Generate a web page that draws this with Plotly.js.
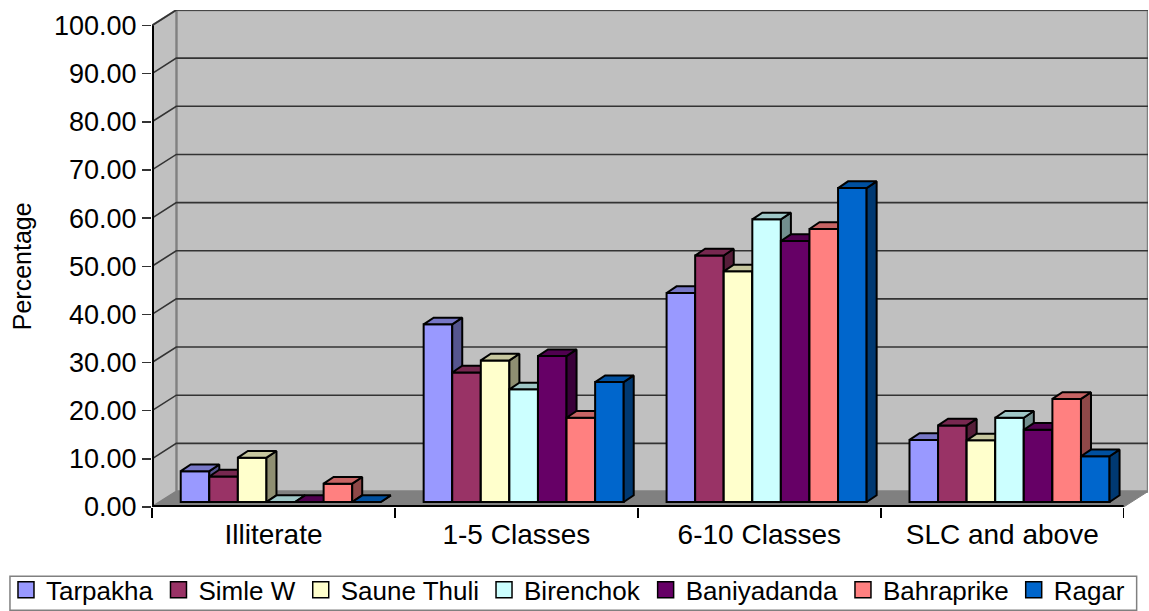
<!DOCTYPE html>
<html>
<head>
<meta charset="utf-8">
<script src="https://cdn.plot.ly/plotly-3.0.1.min.js"></script>
<style>html,body{margin:0;padding:0;background:#fff}#chart{width:1149px;height:611px}</style>
</head>
<body>
<div id="chart"></div>
<script>
// Education level by settlement, in percent
const categories = ['Illiterate', '1-5 Classes', '6-10 Classes', 'SLC and above'];
const tarpakha   = [6.4, 36.9, 43.4, 12.9];
const simleW     = [5.3, 26.9, 51.2, 15.9];
const sauneThuli = [9.2, 29.4, 47.9, 12.8];
const birenchok  = [0.0, 23.4, 58.7, 17.5];
const baniyadanda = [0.0, 30.3, 54.2, 15.0];
const bahraprike = [3.8, 17.5, 56.7, 21.4];
const ragar      = [0.0, 24.9, 65.2, 9.5];

const seriesNames = ['Tarpakha', 'Simle W', 'Saune Thuli', 'Birenchok', 'Baniyadanda', 'Bahraprike', 'Ragar'];
const seriesValues = [tarpakha, simleW, sauneThuli, birenchok, baniyadanda, bahraprike, ragar];
const seriesColors = ['#9999FF', '#993366', '#FFFFCC', '#CCFFFF', '#660066', '#FF8080', '#0066CC'];
const yTicks = [0, 10, 20, 30, 40, 50, 60, 70, 80, 90, 100];

// Oblique projection of the box, in axis units
const wallDx = 0.1, wallDy = 3.22;        // floor depth
const barShiftX = 0.03, barShiftY = 1.04; // bars sit slightly behind the front edge
const barDx = 0.0412, barDy = 1.39;       // bar depth
const barWidth = 1 / 8.5;
const centers = categories.map((_, i) => i + 0.5);
const font = 'Liberation Sans, Arial, sans-serif';

function shade(hex, k) {
  const n = parseInt(hex.slice(1), 16);
  const c = [n >> 16, (n >> 8) & 255, n & 255].map(v => Math.round(v * k));
  return `rgb(${c[0]},${c[1]},${c[2]})`;
}
function polygon(x, y, color, lineColor, lineWidth, axes) {
  return Object.assign({
    type: 'scatter', mode: lineWidth ? 'lines' : 'none', x, y,
    fill: 'toself', fillcolor: color,
    line: {color: lineColor, width: lineWidth || 0},
    hoverinfo: 'skip', showlegend: false
  }, axes || {});
}
function stroke(x, y, color, width) {
  return {type: 'scatter', mode: 'lines', x, y, line: {color, width}, hoverinfo: 'skip', showlegend: false};
}

const traces = [];

// Back wall, side wall and floor
const xMax = categories.length, yMax = yTicks[yTicks.length - 1];
const xEnd = xMax + wallDx, yEnd = yMax + wallDy;
traces.push(polygon([wallDx, xEnd, xEnd, wallDx, wallDx],
  [wallDy, wallDy, yEnd, yEnd, wallDy], '#C0C0C0', '#808080', 2.5));
traces.push(polygon([0, wallDx, wallDx, 0, 0],
  [0, wallDy, yEnd, yMax, 0], '#C0C0C0', '#808080', 2));
traces.push(polygon([0, xMax, xEnd, wallDx, 0],
  [0, 0, wallDy, wallDy, 0], '#808080', '#808080', 1));

// Gridlines run along the side wall and across the back wall
const gx = [], gy = [];
yTicks.slice(1).forEach(t => {
  gx.push(0, wallDx, xEnd, null);
  gy.push(t, t + wallDy, t + wallDy, null);
});
traces.push(stroke(gx, gy, '#333333', 1.6));

// Axis lines stop at the front edge of the box
traces.push(stroke([0, 0], [0, yMax], '#000', 4));
traces.push(stroke([0, xMax], [0, 0], '#000', 4));

// Each series sits on its own overlay so later bars paint over earlier side faces
const layoutAxes = {};
seriesNames.forEach((name, s) => {
  const id = s + 2;
  const axes = {xaxis: 'x' + id, yaxis: 'y' + id};
  layoutAxes['xaxis' + id] = {overlaying: 'x', matches: 'x', visible: false};
  layoutAxes['yaxis' + id] = {overlaying: 'y', matches: 'y', visible: false};
  const values = seriesValues[s];
  const color = seriesColors[s];
  const left = (s - 3.5) * barWidth + barShiftX;

  traces.push(Object.assign({
    type: 'bar', name, x: centers, y: values,
    base: values.map(() => barShiftY),
    width: barWidth, offset: left,
    marker: {color, line: {color: '#000', width: 2}},
    showlegend: false, hoverinfo: 'skip'
  }, axes));

  const topX = [], topY = [], sideX = [], sideY = [];
  centers.forEach((c, i) => {
    const x0 = c + left, x1 = x0 + barWidth, y0 = barShiftY, y1 = y0 + values[i];
    topX.push(x0, x0 + barDx, x1 + barDx, x1, x0, null);
    topY.push(y1, y1 + barDy, y1 + barDy, y1, y1, null);
    sideX.push(x1, x1 + barDx, x1 + barDx, x1, x1, null);
    sideY.push(y1, y1 + barDy, y0 + barDy, y0, y1, null);
  });
  traces.push(polygon(sideX, sideY, shade(color, 0.56), '#000', 2, axes));
  traces.push(polygon(topX, topY, shade(color, 0.78), '#000', 2, axes));
});

// Square keys for the legend
seriesNames.forEach((name, s) => {
  traces.push({type: 'scatter', mode: 'markers', name, x: [null], y: [null],
    marker: {symbol: 'square', size: 16, color: seriesColors[s], line: {color: '#000', width: 1.5}},
    hoverinfo: 'skip'});
});

const layout = Object.assign({
  width: 1149, height: 611,
  paper_bgcolor: '#fff', plot_bgcolor: 'rgba(0,0,0,0)',
  margin: {l: 152, r: 1.2, t: 10, b: 104.3, autoexpand: false},
  barmode: 'overlay',
  font: {family: font, color: '#000'},
  xaxis: {
    type: 'linear', range: [0, xEnd], showgrid: false, zeroline: false, showline: false,
    tickmode: 'array', tickvals: centers, ticktext: categories,
    ticks: '', ticklabelstandoff: 8, tickfont: {size: 28, family: font},
    minor: {tickmode: 'array', tickvals: [0, 1, 2, 3, 4], ticks: 'outside', ticklen: 10, tickcolor: '#000', tickwidth: 1.5, showgrid: false}
  },
  yaxis: {
    range: [0, yEnd], showgrid: false, zeroline: false, showline: false,
    tickmode: 'array', tickvals: yTicks, ticktext: yTicks.map(v => v.toFixed(2)),
    ticks: 'outside', ticklen: 9, tickcolor: '#333', tickwidth: 1.5,
    ticklabelstandoff: 0, tickfont: {size: 27, family: font}
  },
  // Axis title centred on the 0-100 scale rather than on the taller wall
  annotations: [{
    text: 'Percentage', textangle: -90, showarrow: false,
    xref: 'paper', x: -0.1305, xanchor: 'center',
    yref: 'y', y: 50, yanchor: 'middle',
    font: {size: 25, family: font}
  }],
  // Frame around the legend row
  shapes: [{
    type: 'rect', xref: 'paper', yref: 'paper',
    x0: -0.1426, x1: 0.9886, y0: -0.1394, y1: -0.2078,
    line: {color: '#808080', width: 1.5}, fillcolor: '#fff', layer: 'below'
  }],
  legend: {
    orientation: 'h', x: -0.1466, xanchor: 'left', y: -0.1194, yanchor: 'top',
    font: {size: 26, family: font}, bgcolor: 'rgba(0,0,0,0)', borderwidth: 0
  }
}, layoutAxes);

Plotly.newPlot('chart', traces, layout, {staticPlot: true, displayModeBar: false});
</script>
</body>
</html>
